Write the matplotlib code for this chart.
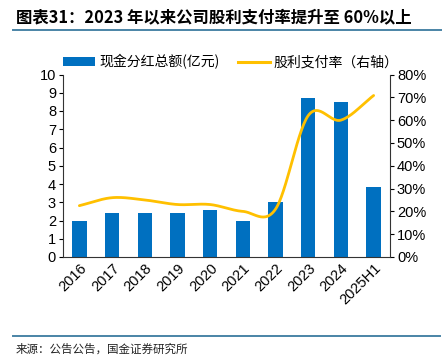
import numpy as np
import matplotlib
matplotlib.use("Agg")
import matplotlib.pyplot as plt
from matplotlib.lines import Line2D
from matplotlib.patches import Patch

plt.rcParams['font.family'] = ['Liberation Sans', 'Noto Sans CJK SC', 'DejaVu Sans']

categories = ["2016", "2017", "2018", "2019", "2020", "2021", "2022", "2023", "2024", "2025H1"]
dividends = [2.0, 2.4, 2.4, 2.4, 2.6, 2.0, 3.0, 8.7, 8.5, 3.85]
payout_pct = [22.5, 26.0, 25.0, 23.0, 23.0, 20.0, 21.0, 62.0, 60.0, 70.8]

title = "图表31：2023 年以来公司股利支付率提升至 60%以上"
legend_bar = "现金分红总额(亿元)"
legend_line = "股利支付率（右轴）"
source = "来源：公告公告，国金证券研究所"

BLUE = "#0070C0"
GOLD = "#FFC000"
RULE = "#4A84A6"

W, H = 442, 355
fig = plt.figure(figsize=(W / 100, H / 100), dpi=100)

def fx(px):
    return px / W

def fy(py):
    return 1 - py / H

ax_l, ax_r_px, ax_t, ax_b = 63, 390, 74.5, 257
ax = fig.add_axes([fx(ax_l), fy(ax_b), fx(ax_r_px - ax_l), (ax_b - ax_t) / H])

x = np.arange(len(categories))
ax.bar(x, dividends, width=0.44, color=BLUE, zorder=2)
ax.set_xlim(-0.5, len(categories) - 0.5)
ax.set_ylim(0, 10)
ax.set_yticks(range(0, 11))
ax.set_xticks(x)
ax.set_xticklabels(categories, rotation=45, ha='right', rotation_mode='anchor', fontsize=10.5)
ax.tick_params(axis='x', length=0, pad=3)
ax.tick_params(axis='y', direction='out', length=3, width=0.8, labelsize=10.5, pad=2)
for s in ['top', 'right']:
    ax.spines[s].set_visible(False)
ax.spines['left'].set_color('#333333')
ax.spines['bottom'].set_color('#333333')

ax2 = ax.twinx()
ax2.set_ylim(0, 80)
ax2.set_yticks(range(0, 81, 10))
ax2.set_yticklabels([f"{v}%" for v in range(0, 81, 10)])
ax2.tick_params(axis='y', direction='out', length=3, width=0.8, labelsize=10.5, pad=2)
for s in ['top', 'left', 'bottom']:
    ax2.spines[s].set_visible(False)
ax2.spines['right'].set_color('#333333')

# smooth curve through data points (Catmull-Rom rendering)
px = x.astype(float)
py = np.array(payout_pct, dtype=float)
P = np.column_stack([px, py])
P_ext = np.vstack([P[0] - (P[1] - P[0]), P, P[-1] + (P[-1] - P[-2])])
pts = []
for i in range(1, len(P_ext) - 2):
    p0, p1, p2, p3 = P_ext[i - 1], P_ext[i], P_ext[i + 1], P_ext[i + 2]
    t = np.linspace(0, 1, 30)[:, None]
    seg = 0.5 * ((2 * p1) + (-p0 + p2) * t + (2 * p0 - 5 * p1 + 4 * p2 - p3) * t ** 2
                 + (-p0 + 3 * p1 - 3 * p2 + p3) * t ** 3)
    pts.append(seg)
curve = np.vstack(pts)
ax2.plot(curve[:, 0], curve[:, 1], color=GOLD, lw=2.0, zorder=3, solid_capstyle='round')

# legend
handles = [Patch(facecolor=BLUE, edgecolor='none'),
           Line2D([0], [0], color=GOLD, lw=2.2)]
fig.legend(handles, [legend_bar, legend_line], loc='center', ncol=2,
           bbox_to_anchor=(fx(231), fy(62)), frameon=False,
           handlelength=2.3, handleheight=0.6, handletextpad=0.3, columnspacing=1.3,
           prop={'family': ['Noto Sans CJK SC', 'DejaVu Sans'], 'size': 10})

# title and rules
fig.text(fx(16), fy(17), title, fontsize=11.8, fontweight='bold', style='italic',
         family=['Noto Sans CJK SC', 'DejaVu Sans'], va='center', ha='left')
fig.add_artist(Line2D([fx(13), 1.0], [fy(30), fy(30)], color=RULE, lw=1.4))
fig.add_artist(Line2D([fx(13), fx(440)], [fy(336), fy(336)], color=RULE, lw=1.4))
fig.text(fx(16), fy(349), source, fontsize=8.3, family=['Noto Sans CJK SC', 'DejaVu Sans'],
         va='center', ha='left', color='#222222')

fig.savefig("out.png", dpi=100)
